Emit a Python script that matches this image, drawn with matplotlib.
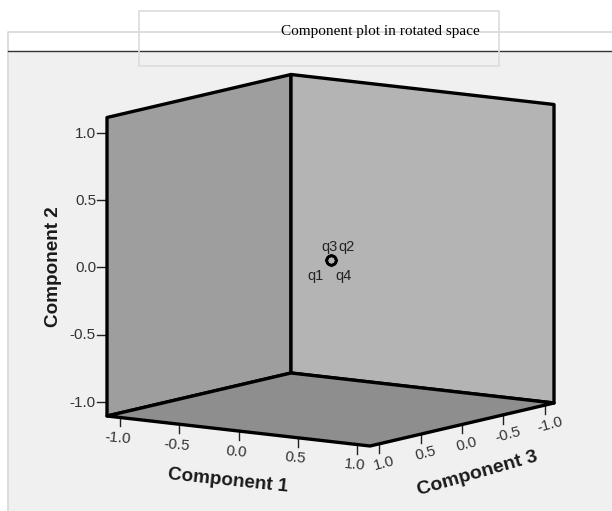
import matplotlib
matplotlib.use("Agg")
import matplotlib.pyplot as plt
from matplotlib.patches import Polygon, Rectangle

plt.rcParams['font.family'] = ['Liberation Sans', 'DejaVu Sans']

# --- data ---
title = "Component plot in rotated space"
labels = ["q1", "q2", "q3", "q4"]
comp1 = [0.0, 0.0, 0.0, 0.0]
comp2 = [0.0, 0.0, 0.0, 0.0]
comp3 = [0.0, 0.0, 0.0, 0.0]
ticks = [-1.0, -0.5, 0.0, 0.5, 1.0]
tick_labels = ["-1.0", "-0.5", "0.0", "0.5", "1.0"]

# --- projection of the box into pixels ---
LIM = 1.11
BACK = (291.0, 373.0)  # comp1 min, comp3 min, floor
C1_VEC = (263.0, 30.0)
C3_VEC = (-184.0, 43.0)
HEIGHT = 298.5


def proj(c1, c2, c3):
    a = (c1 + LIM) / (2 * LIM)
    b = (c3 + LIM) / (2 * LIM)
    h = (c2 + LIM) / (2 * LIM)
    return (BACK[0] + a * C1_VEC[0] + b * C3_VEC[0],
            BACK[1] + a * C1_VEC[1] + b * C3_VEC[1] - h * HEIGHT)


fig = plt.figure(figsize=(6.12, 5.11), dpi=100, facecolor='white')
ax = fig.add_axes([0, 0, 1, 1])
ax.set_xlim(0, 612)
ax.set_ylim(511, 0)
ax.axis('off')

# chart frame
ax.add_patch(Rectangle((8, 51), 604, 460, fc='#f0f0f0', ec='none', zorder=1))
ax.plot([8, 8, 612], [511, 32, 32], color='#d8d8d8', lw=1.2, zorder=2)
ax.plot([8, 612], [51, 51], color='#333333', lw=1.0, zorder=2)
ax.add_patch(Rectangle((139, 11), 360, 55, fc='none', ec='#dcdcdc', lw=1.2, zorder=6))
ax.text(380, 31, title, family='Liberation Serif', fontsize=11, ha='center', va='center', color='black', zorder=7)

# walls and floor
wall_left = [proj(-LIM, -LIM, -LIM), proj(-LIM, LIM, -LIM), proj(-LIM, LIM, LIM), proj(-LIM, -LIM, LIM)]
wall_right = [proj(-LIM, -LIM, -LIM), proj(-LIM, LIM, -LIM), proj(LIM, LIM, -LIM), proj(LIM, -LIM, -LIM)]
floor = [proj(-LIM, -LIM, -LIM), proj(LIM, -LIM, -LIM), proj(LIM, -LIM, LIM), proj(-LIM, -LIM, LIM)]
for pts, col in [(wall_left, '#9e9e9e'), (wall_right, '#b4b4b4'), (floor, '#8e8e8e')]:
    ax.add_patch(Polygon(pts, closed=True, fc=col, ec='black', lw=2.4, joinstyle='round', zorder=3))

# component 2 ticks on the left edge
for t, s in zip(ticks, tick_labels):
    x, y = proj(-LIM, t, LIM)
    ax.plot([x - 10, x], [y + 0.7, y + 0.7], color='#222222', lw=1.0, zorder=2)
    ax.text(x - 11, y + 1.5, s, fontsize=11, ha='right', va='center', color='#333333')

# component 1 ticks on the front left edge
for t, s in zip(ticks, tick_labels):
    x, y = proj(t, -LIM, LIM)
    ax.plot([x, x], [y, y + 9], color='#222222', lw=1.0, zorder=2)
    ax.text(x - 2.5, y + 20.5, s, fontsize=11, ha='center', va='center', rotation=-5,
            rotation_mode='anchor', color='#333333')

# component 3 ticks on the front right edge
for t, s in zip(ticks, tick_labels):
    x, y = proj(LIM, -LIM, t)
    ax.plot([x, x], [y, y + 9], color='#222222', lw=1.0, zorder=2)
    ax.text(x + 5, y + 19.5, s, fontsize=11, ha='center', va='center', rotation=15,
            rotation_mode='anchor', color='#333333')

ax.text(54, 267, "Component 2", fontsize=13.6, fontweight='bold', rotation=90, ha='center', va='center', color='#1a1a1a')
ax.text(228, 481, "Component 1", fontsize=13.6, fontweight='bold', rotation=-6, ha='center', va='center',
        rotation_mode='anchor', color='#1a1a1a')
ax.text(477, 474, "Component 3", fontsize=14, fontweight='bold', rotation=16, ha='center', va='center',
        rotation_mode='anchor', color='#1a1a1a')

# points
for c1, c2, c3, name in zip(comp1, comp2, comp3, labels):
    x, y = proj(c1, c2, c3)
    ax.plot(x, y, 'o', ms=6.8, mfc='none', mec='black', mew=1.8, zorder=5)
    dx, dy = {"q1": (-15, 16), "q2": (16, -13), "q3": (-1, -13), "q4": (13, 16)}[name]
    ax.text(x + dx, y + dy, name, fontsize=10.5, ha='center', va='center', color='#222222', zorder=6)

fig.savefig("out.png", dpi=100)
